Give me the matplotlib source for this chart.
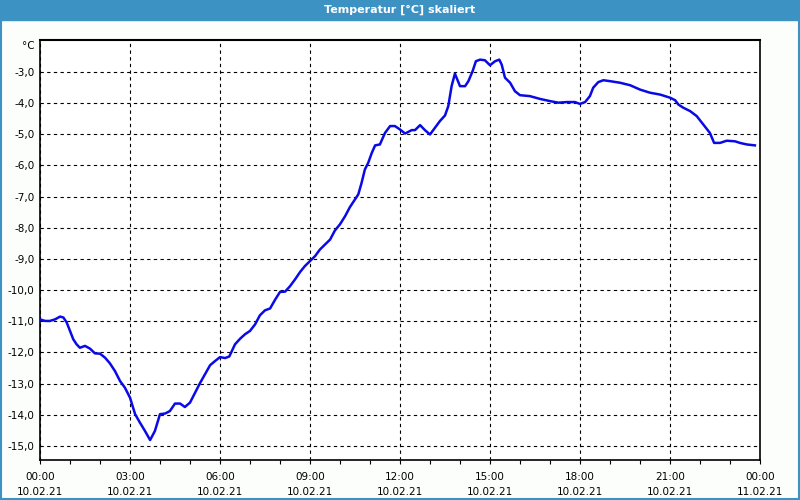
import numpy as np
import matplotlib
matplotlib.use("Agg")
from matplotlib import pyplot as plt
from matplotlib.ticker import MultipleLocator, FuncFormatter

# Hours since 10.02.21 00:00 and temperature readings
hours = [0.00, 0.17, 0.33, 0.50, 0.67, 0.78, 0.89, 1.00, 1.11, 1.22, 1.33, 1.50, 1.67, 1.83,
         2.00, 2.17, 2.33, 2.50, 2.67, 2.83, 3.00, 3.17, 3.33, 3.50, 3.67, 3.83, 4.00, 4.17,
         4.33, 4.50, 4.67, 4.83, 5.00, 5.17, 5.33, 5.50, 5.67, 5.83, 6.00, 6.17, 6.31, 6.50,
         6.67, 6.83, 7.00, 7.17, 7.33, 7.50, 7.67, 7.83, 8.00, 8.17, 8.33, 8.50, 8.67, 8.83,
         9.00, 9.17, 9.33, 9.50, 9.67, 9.83, 10.00, 10.17, 10.33, 10.50, 10.61, 10.72, 10.83,
         10.94, 11.06, 11.17, 11.33, 11.50, 11.67, 11.83, 12.00, 12.17, 12.39, 12.50, 12.67,
         12.83, 13.00, 13.17, 13.33, 13.50, 13.61, 13.72, 13.83, 14.00, 14.17, 14.28, 14.42,
         14.53, 14.67, 14.83, 15.00, 15.17, 15.31, 15.39, 15.50, 15.67, 15.83, 16.00, 16.33,
         16.67, 17.00, 17.28, 17.56, 17.83, 18.00, 18.17, 18.33, 18.44, 18.61, 18.78, 19.00,
         19.33, 19.67, 20.00, 20.33, 20.67, 21.00, 21.17, 21.28, 21.44, 21.67, 21.89, 22.11,
         22.33, 22.47, 22.67, 22.89, 23.17, 23.33, 23.56, 23.83]
temps = [-10.94, -10.99, -10.99, -10.94, -10.85, -10.88, -11.04, -11.31, -11.58, -11.74, -11.85,
         -11.79, -11.88, -12.03, -12.04, -12.17, -12.35, -12.60, -12.92, -13.13, -13.45, -13.98,
         -14.25, -14.52, -14.81, -14.52, -13.98, -13.96, -13.88, -13.64, -13.64, -13.75, -13.61,
         -13.29, -12.99, -12.70, -12.41, -12.28, -12.15, -12.18, -12.13, -11.74, -11.56, -11.42,
         -11.31, -11.10, -10.81, -10.65, -10.59, -10.32, -10.06, -10.05, -9.88, -9.66, -9.42,
         -9.23, -9.07, -8.91, -8.70, -8.54, -8.38, -8.09, -7.89, -7.63, -7.34, -7.09, -6.93,
         -6.56, -6.13, -5.92, -5.60, -5.36, -5.33, -4.96, -4.74, -4.74, -4.85, -4.98, -4.87,
         -4.87, -4.71, -4.87, -5.01, -4.79, -4.58, -4.40, -4.10, -3.46, -3.06, -3.46, -3.46,
         -3.30, -2.98, -2.66, -2.61, -2.63, -2.79, -2.66, -2.61, -2.77, -3.19, -3.35, -3.62,
         -3.75, -3.78, -3.87, -3.94, -3.99, -3.97, -3.97, -4.03, -3.97, -3.78, -3.51, -3.33,
         -3.27, -3.30, -3.35, -3.43, -3.57, -3.67, -3.73, -3.83, -3.91, -4.05, -4.15, -4.26,
         -4.42, -4.69, -4.96, -5.28, -5.28, -5.21, -5.23, -5.28, -5.33, -5.36]

xtick_pos = [0, 3, 6, 9, 12, 15, 18, 21, 24]
xtick_labels = ["00:00\n10.02.21", "03:00\n10.02.21", "06:00\n10.02.21", "09:00\n10.02.21",
                "12:00\n10.02.21", "15:00\n10.02.21", "18:00\n10.02.21", "21:00\n10.02.21",
                "00:00\n11.02.21"]
title = "Temperatur [°C] skaliert"

bar_blue = "#3d92c4"
bg = "#fcfefc"

fig = plt.figure(figsize=(8, 5), dpi=100, facecolor=bg)

# title bar and frame
fig.patches.append(plt.Rectangle((0, 0.96), 1, 0.04, transform=fig.transFigure,
                                 color=bar_blue, zorder=0))
fig.patches.append(plt.Rectangle((0.0012, 0.003), 0.9976, 0.96, transform=fig.transFigure,
                                 fill=False, edgecolor=bar_blue, lw=1.5, zorder=0))
fig.text(0.5, 0.98, title, color="white", fontsize=8, fontweight="bold",
         ha="center", va="center")

ax = fig.add_axes([0.05, 0.08, 0.90, 0.84])
ax.set_facecolor("white")
ax.plot(hours, temps, color="#0a0ae6", lw=1.8, zorder=3)

ax.set_xlim(0, 24)
ax.set_ylim(-15.45, -1.98)
ax.set_xticks(xtick_pos)
ax.set_xticklabels(xtick_labels, fontsize=7.5, linespacing=1.6)
ax.xaxis.set_minor_locator(MultipleLocator(1))
ax.tick_params(axis="x", which="both", direction="out", length=3, width=0.8, pad=6)
ax.set_yticks(np.arange(-15, -2, 1))
ax.yaxis.set_major_formatter(FuncFormatter(lambda v, p: ("%.1f" % v).replace(".", ",")))
ax.tick_params(axis="y", length=0, pad=4, labelsize=7.5)

ax.grid(True, which="major", color="black", lw=0.8, linestyle=(0, (3, 3)))
for s in ax.spines.values():
    s.set_linewidth(1.2)
ax.spines["top"].set_linewidth(1.5)

fig.text(28 / 800, 1 - 46 / 500, "°C", fontsize=7.5, ha="center", va="center")

fig.savefig("out.png", dpi=100, facecolor=bg)
